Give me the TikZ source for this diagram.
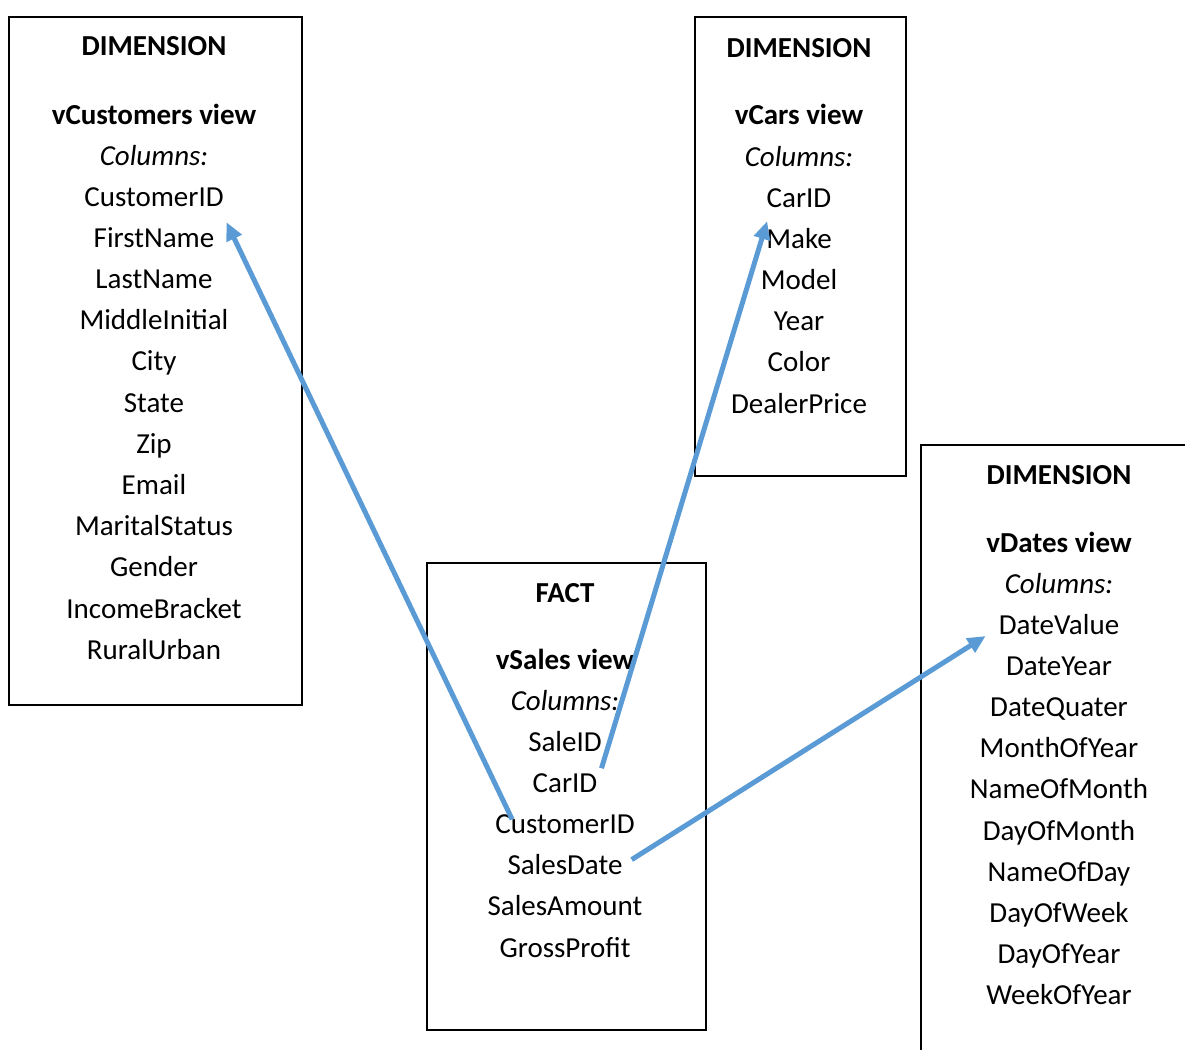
\documentclass[tikz,border=0pt]{standalone}
\usepackage{fontspec}
\setmainfont{Carlito}
\usetikzlibrary{arrows.meta}
\definecolor{linkblue}{HTML}{5B9BD5}
\tikzset{
  tbl/.style={draw, line width=1.6pt},
  col/.style={anchor=base, inner sep=0pt, font=\fontsize{29}{35}\selectfont},
  hdr/.style={col, font=\fontsize{29}{35}\selectfont\bfseries},
  sub/.style={col, font=\fontsize{29}{35}\selectfont\itshape},
  link/.style={line width=5pt, linkblue, -{Triangle[length=18pt,width=16pt]}}
}
\begin{document}
\begin{tikzpicture}[x=1pt,y=-1pt]
       \clip (0,0) rectangle (1185,1049);

       % tables
       \node[tbl, minimum width=293pt, minimum height=688pt, anchor=north west] (custTable) at (8,16) {};
       \node[tbl, minimum width=211pt, minimum height=459pt, anchor=north west] (carTable) at (694,16) {};
       \node[tbl, minimum width=279pt, minimum height=467pt, anchor=north west] (saleTable) at (426,562) {};
       \node[tbl, minimum width=300pt, minimum height=650pt, anchor=north west] (dateTable) at (920,444) {};

       % vCustomers
       \node[hdr] (custKind) at (154,56) {DIMENSION};
       \node[hdr] (custView) at (154,124) {vCustomers view};
       \node[sub] (custCols) at (154,165) {Columns:};
       \foreach \name [count=\i] in {CustomerID,FirstName,LastName,MiddleInitial,City,State,Zip,Email,MaritalStatus,Gender,IncomeBracket,RuralUrban}
         \node[col] (c\name) at (154,164.8+41.2*\i) {\name};

       % vCars
       \node[hdr] (carKind) at (799,57) {DIMENSION};
       \node[hdr] (carView) at (799,124) {vCars view};
       \node[sub] (carCols) at (799,166) {Columns:};
       \foreach \name [count=\i] in {CarID,Make,Model,Year,Color,DealerPrice}
         \node[col] (car\name) at (799,165.8+41.2*\i) {\name};

       % vSales
       \node[hdr] (saleKind) at (565,602) {FACT};
       \node[hdr] (saleView) at (565,669) {vSales view};
       \node[sub] (saleCols) at (565,710) {Columns:};
       \foreach \name [count=\i] in {SaleID,CarID,CustomerID,SalesDate,SalesAmount,GrossProfit}
         \node[col] (s\name) at (565,709.8+41.2*\i) {\name};

       % vDates
       \node[hdr] (dateKind) at (1059,484) {DIMENSION};
       \node[hdr] (dateView) at (1059,552) {vDates view};
       \node[sub] (dateCols) at (1059,593) {Columns:};
       \foreach \name [count=\i] in {DateValue,DateYear,DateQuater,MonthOfYear,NameOfMonth,DayOfMonth,NameOfDay,DayOfWeek,DayOfYear,WeekOfYear}
         \node[col] (d\name) at (1059,592.8+41.2*\i) {\name};

       % links
       \draw[link] ([shift={(17,-14)}]sCustomerID.base west) -- ([shift={(12,-25)}]cFirstName.base east);
       \draw[link] ([shift={(4,-24)}]sCarID.base east) -- ([shift={(1,-27)}]carMake.base west);
       \draw[link] ([shift={(9,-15)}]sSalesDate.base east) -- ([shift={(-13,2)}]dDateValue.base west);
    \end{tikzpicture}
\end{document}
